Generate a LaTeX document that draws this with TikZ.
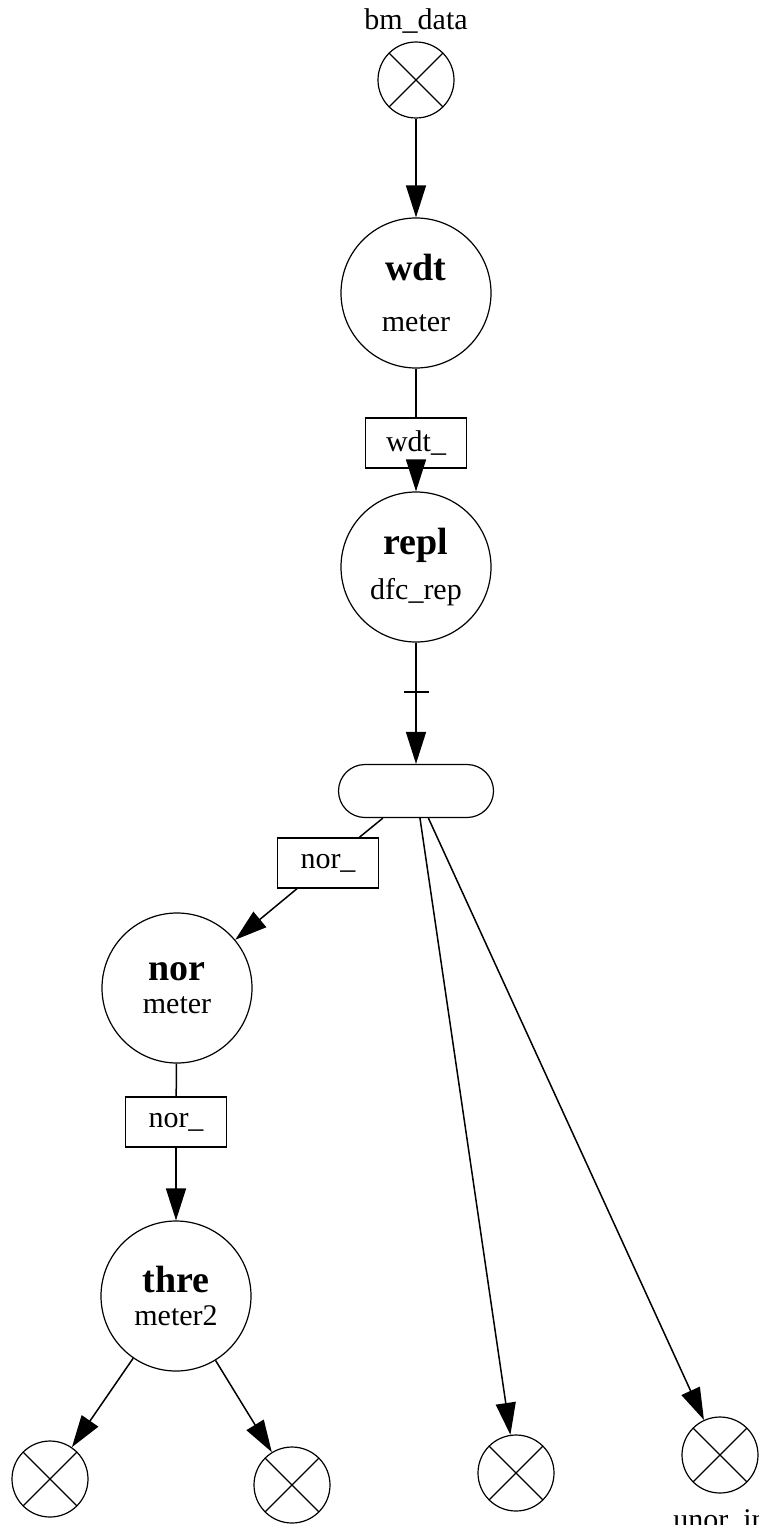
\documentclass[tikz,border=0pt]{standalone}
\usepackage{fontspec}
\setmainfont{Liberation Serif}
\usetikzlibrary{shapes.misc,arrows.meta}
\newcommand{\pname}[1]{{\bfseries\fontsize{38}{40}\selectfont #1}}

\begin{document}
\begin{tikzpicture}[x=1pt,y=-1pt,
            >={Triangle[length=32pt,width=20pt]},
            every node/.style={font=\fontsize{30}{33}\selectfont},
            proc/.style={circle,draw,line width=1.2pt,minimum size=150pt,inner sep=0pt,align=center},
            port/.style={circle,draw,line width=1.2pt,minimum size=76pt,inner sep=0pt,
                path picture={\draw[line width=1.2pt] (path picture bounding box.north west) -- (path picture bounding box.south east)
                    (path picture bounding box.north east) -- (path picture bounding box.south west);}},
            buf/.style={rectangle,draw,fill=white,line width=1.2pt,minimum width=101pt,minimum height=50pt,inner sep=0pt},
            fork/.style={rounded rectangle,draw,line width=1.2pt,minimum width=155pt,minimum height=53pt,inner sep=0pt},
            tickmark/.style={fill=black,minimum width=25pt,minimum height=2pt,inner sep=0pt},
            conn/.style={line width=1.5pt}]
            \useasboundingbox (0,0) rectangle (759,1525);
            % nodes
            \node[port, label={[label distance=4pt]above:bm\_data}] (bmdata) at (416,80) {};
            \node[proc] (wdt) at (416,293) {\pname{wdt}\\[18pt]meter};
            \node[buf] (wdtbuf) at (416,443) {wdt\_};
            \node[proc] (repl) at (416,567) {\pname{repl}\\[12pt]dfc\_rep};
            \node[fork] (split) at (416,791) {};
            \node[buf] (norin) at (328,863) {nor\_};
            \node[proc] (nor) at (177,988) {\pname{nor}\\meter};
            \node[buf] (norbuf) at (176,1122) {nor\_};
            \node[proc] (thre) at (176,1296) {\pname{thre}\\meter2};
            \node[port] (outa) at (50,1479) {};
            \node[port] (outb) at (292,1485) {};
            \node[port] (outc) at (516,1473) {};
            \node[port, label={[label distance=12pt]below:unor\_in}] (unorin) at (720,1455) {};
            % connectors
            \draw[conn, ->] (bmdata) -- (wdt);
            \draw[conn] (wdt) -- (wdtbuf);
            \draw[conn, ->, shorten <=-12pt] (wdtbuf) -- (repl);
            \draw[conn, ->] (repl) -- node[tickmark, pos=0.41]{} (split);
            \draw[conn] (split) -- (norin);
            \draw[conn, ->] (norin) -- (nor);
            \draw[conn] (nor) -- (norbuf);
            \draw[conn, ->] (norbuf) -- (thre);
            \draw[conn, ->] (thre) -- (outa);
            \draw[conn, ->] (thre) -- (outb);
            \draw[conn, ->] (split) -- (outc);
            \draw[conn, ->] (split) -- (unorin);
\end{tikzpicture}
\end{document}
